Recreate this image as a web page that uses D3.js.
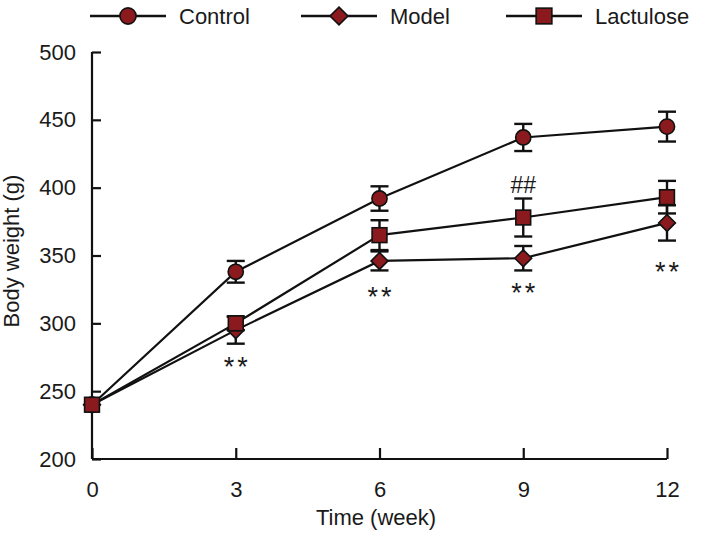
<!DOCTYPE html>
<html>
<head>
<meta charset="utf-8">
<script src="https://cdn.jsdelivr.net/npm/d3@7"></script>
<style>
  html, body { margin: 0; padding: 0; background: #fff; }
  svg { display: block; }
  text { font-family: "Liberation Sans", Arial, sans-serif; fill: #1a1a1a; }
</style>
</head>
<body>
<svg id="chart" width="701" height="533"></svg>
<script>
// ---- data ----
const weeks = [0, 3, 6, 9, 12];
const xTicks = [0, 3, 6, 9, 12];
const yTicks = [200, 250, 300, 350, 400, 450, 500];

const controlMean = [240, 338, 392, 437, 445];
const controlErr  = [0, 8, 9, 10, 11];
const modelMean   = [240, 295, 346, 348, 374];
const modelErr    = [0, 10, 7, 9, 13];
const lactMean    = [240, 300, 365, 378, 393];
const lactErr     = [0, 5, 11, 14, 12];

const seriesNames = ["Control", "Model", "Lactulose"];
const seriesShapes = ["circle", "diamond", "square"];

const annotations = [
  { week: 3, value: 271, label: "**" },
  { week: 6, value: 323, label: "**" },
  { week: 9, value: 326, label: "**" },
  { week: 12, value: 341, label: "**" },
  { week: 9, value: 402, label: "##" }
];

// ---- layout ----
const svg = d3.select("#chart");
const x = d3.scaleLinear().domain([0, 12]).range([92, 667]);
const y = d3.scaleLinear().domain([200, 500]).range([459, 52]);
const fillColor = "#8b1a1e";

// axes
const yAxis = d3.axisLeft(y).tickValues(yTicks).tickSize(-9).tickPadding(16);
const xAxis = d3.axisBottom(x).tickValues(xTicks).tickSize(-11).tickPadding(22);

const gy = svg.append("g").attr("transform", `translate(${x(0)},0)`).call(yAxis);
const gx = svg.append("g").attr("transform", `translate(0,${y(200)})`).call(xAxis);
[gx, gy].forEach(g => {
  g.select(".domain").attr("stroke", "#111").attr("stroke-width", 2.2);
  g.selectAll(".tick line").attr("stroke", "#111").attr("stroke-width", 2.2);
  g.selectAll(".tick text").attr("font-family", "Liberation Sans, Arial, sans-serif")
    .attr("font-size", 22).attr("fill", "#1a1a1a");
});
gy.select(".domain").attr("d", `M0,${y(500)}V${y(200)}`);
gx.select(".domain").attr("d", `M${x(0)},0H${x(12)}`);

// axis titles
svg.append("text")
  .attr("transform", `translate(19,251) rotate(-90)`)
  .attr("text-anchor", "middle")
  .attr("font-size", 22)
  .text("Body weight (g)");
svg.append("text")
  .attr("x", 376).attr("y", 525)
  .attr("text-anchor", "middle")
  .attr("font-size", 22)
  .text("Time (week)");

// marker drawer
function drawMarker(g, shape, cx, cy, size) {
  if (shape === "circle") {
    g.append("circle").attr("cx", cx).attr("cy", cy).attr("r", size * 0.95)
      .attr("fill", fillColor).attr("stroke", "#111").attr("stroke-width", 1.6);
  } else if (shape === "square") {
    const s = size * 1.85;
    g.append("rect").attr("x", cx - s/2).attr("y", cy - s/2).attr("width", s).attr("height", s)
      .attr("fill", fillColor).attr("stroke", "#111").attr("stroke-width", 1.6);
  } else {
    const d = size * 1.05;
    g.append("path").attr("d", `M${cx},${cy-d}L${cx+d},${cy}L${cx},${cy+d}L${cx-d},${cy}Z`)
      .attr("fill", fillColor).attr("stroke", "#111").attr("stroke-width", 1.6);
  }
}

const series = [
  { name: seriesNames[0], shape: seriesShapes[0], mean: controlMean, err: controlErr },
  { name: seriesNames[1], shape: seriesShapes[1], mean: modelMean, err: modelErr },
  { name: seriesNames[2], shape: seriesShapes[2], mean: lactMean, err: lactErr }
];

const line = d3.line().x(d => x(d[0])).y(d => y(d[1]));

series.forEach(s => {
  const g = svg.append("g");
  const pts = weeks.map((w, i) => [w, s.mean[i]]);
  g.append("path").attr("d", line(pts)).attr("fill", "none")
    .attr("stroke", "#111").attr("stroke-width", 2.2);
});

series.forEach(s => {
  const g = svg.append("g");
  weeks.forEach((w, i) => {
    const e = s.err[i];
    if (e > 0) {
      const cx = x(w), y1 = y(s.mean[i] + e), y2 = y(s.mean[i] - e);
      g.append("line").attr("x1", cx).attr("x2", cx).attr("y1", y1).attr("y2", y2)
        .attr("stroke", "#111").attr("stroke-width", 2.4);
      [y1, y2].forEach(yy => g.append("line").attr("x1", cx - 9).attr("x2", cx + 9)
        .attr("y1", yy).attr("y2", yy).attr("stroke", "#111").attr("stroke-width", 2.4));
    }
  });
  weeks.forEach((w, i) => drawMarker(g, s.shape, x(w), y(s.mean[i]), 8));
});

// annotations
annotations.forEach(a => {
  const star = a.label === "**";
  svg.append("text")
    .attr("x", x(a.week) + (star ? 1.5 : 0)).attr("y", y(a.value))
    .attr("dy", star ? "0.5em" : "0.34em")
    .attr("text-anchor", "middle")
    .attr("font-family", "Liberation Serif, Times New Roman, serif")
    .attr("font-size", star ? 27 : 23)
    .attr("letter-spacing", star ? 3 : 0)
    .attr("fill", "#333")
    .text(a.label);
});

// legend
const legendX = [90, 301, 506];
const legendY = 16;
series.forEach((s, i) => {
  const g = svg.append("g");
  const x0 = legendX[i];
  g.append("line").attr("x1", x0).attr("x2", x0 + 76).attr("y1", legendY).attr("y2", legendY)
    .attr("stroke", "#111").attr("stroke-width", 2.4);
  drawMarker(g, s.shape, x0 + 38, legendY, 8.5);
  g.append("text").attr("x", x0 + 89).attr("y", legendY + 8)
    .attr("font-size", 22).text(s.name);
});
</script>
</body>
</html>
